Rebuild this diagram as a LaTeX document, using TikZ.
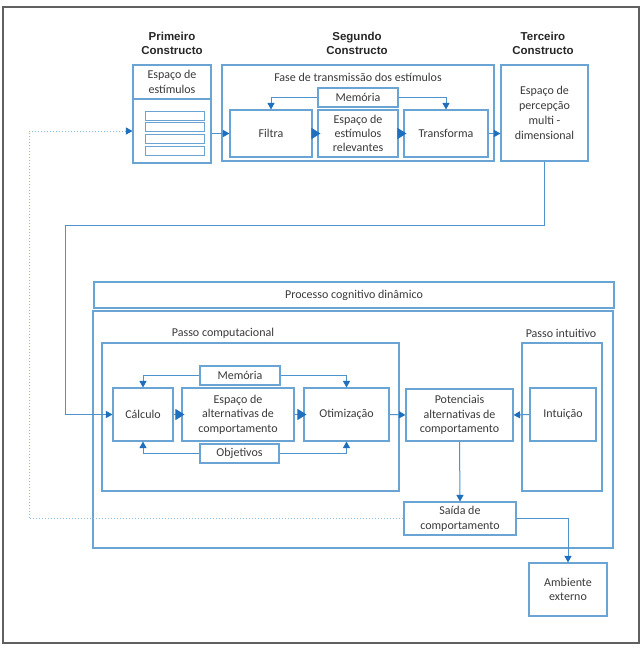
\documentclass[tikz,border=0pt]{standalone}
\usepackage{fontspec}
\setmainfont{Carlito}
\newfontfamily\hdfont{Liberation Sans}
\usetikzlibrary{arrows.meta}
\definecolor{boxblue}{HTML}{6AA4D4}
\definecolor{linblue}{HTML}{4F93CC}
\definecolor{tipblue}{HTML}{1F6FBF}
\definecolor{dotblue}{HTML}{8ABBE0}
\definecolor{txt}{HTML}{3A3A3A}
\definecolor{framegray}{HTML}{606060}
\tikzset{
  box/.style={draw=boxblue, line width=1.1pt, fill=white, text=txt, align=center,
    inner sep=0pt, font=\fontsize{12}{14.6}\selectfont},
  lbl/.style={text=txt, inner sep=0pt, font=\fontsize{12}{14.6}\selectfont},
  hdr/.style={text=black!85, align=center, inner sep=0pt, font=\hdfont\bfseries\fontsize{11.5}{13.5}\selectfont},
  conn/.style={draw=linblue, line width=1pt},
  arr/.style={conn, -{Triangle[length=6.5pt,width=7pt,color=tipblue,fill=tipblue]}},
  bigarr/.style={conn, -{Triangle[length=9pt,width=11pt,color=tipblue,fill=tipblue]}, shorten >=-3pt},
  dotarr/.style={draw=dotblue, line width=1pt, dotted, -{Triangle[length=6.5pt,width=7pt,color=tipblue,fill=tipblue]}},
}
\begin{document}
\begin{tikzpicture}[x=1pt,y=-1pt]
\useasboundingbox (0,0) rectangle (642,648);
\draw[framegray, line width=1.2pt] (3,7) rectangle (639,643);

% headers
\node[hdr] (h1) at (172,43.5) {Primeiro\\Constructo};
\node[hdr] (h2) at (357,43.5) {Segundo\\Constructo};
\node[hdr] (h3) at (543,43.5) {Terceiro\\Constructo};

% first construct
\node[box, minimum width=78pt, minimum height=98pt] (est) at (172,114) {};
\draw[boxblue, line width=1.1pt] (133,99) -- (211,99);
\node[lbl, align=center] (estt) at (172,82) {Espaço de\\estímulos};
\foreach \yy/\nm in {115.5/r1,127/r2,138.5/r3,150.5/r4}
  \node[box, line width=0.9pt, minimum width=59pt, minimum height=9pt] (\nm) at (174.5,\yy) {};

% second construct
\node[box, minimum width=272pt, minimum height=96pt] (seg) at (358,113) {};
\node[lbl] (fase) at (358,77) {Fase de transmissão dos estímulos};
\node[box, minimum width=80pt, minimum height=19pt] (mem1) at (358,97.5) {Memória};
\node[box, minimum width=82pt, minimum height=47pt] (filtra) at (271,133.5) {Filtra};
\node[box, minimum width=80pt, minimum height=47pt] (relev) at (358,133.5) {Espaço de\\[-0.6pt]estímulos\\[-0.6pt]relevantes};
\node[box, minimum width=84pt, minimum height=47pt] (transf) at (446,133.5) {Transforma};

% third construct
\node[box, minimum width=87pt, minimum height=96pt] (terc) at (544.5,113) {Espaço de\\[0.3pt]percepção\\[0.3pt]multi -\\[0.3pt]dimensional};

% lower part
\node[box, minimum width=520pt, minimum height=26pt] (proc) at (354,295) {Processo cognitivo dinâmico};
\node[box, minimum width=520pt, minimum height=237pt] (big) at (353,429.5) {};
\node[lbl] (pct) at (223,333) {Passo computacional};
\node[box, minimum width=297pt, minimum height=148pt] (pc) at (250.5,417) {};
\node[lbl] (pit) at (561,333) {Passo intuitivo};
\node[box, minimum width=80pt, minimum height=148pt] (pi) at (562,417) {};

\node[box, minimum width=80pt, minimum height=19pt] (mem2) at (240,375.5) {Memória};
\node[box, minimum width=60pt, minimum height=53pt] (calc) at (143,414.5) {Cálculo};
\node[box, minimum width=112pt, minimum height=53pt] (alt) at (238,414.5) {Espaço de\\alternativas de\\comportamento};
\node[box, minimum width=85pt, minimum height=53pt] (otim) at (346.5,414.5) {Otimização};
\node[box, minimum width=79pt, minimum height=19pt] (obj) at (239.5,453.5) {Objetivos};
\node[box, minimum width=107pt, minimum height=52pt] (pot) at (459.5,415) {Potenciais\\alternativas de\\comportamento};
\node[box, minimum width=66pt, minimum height=53pt] (intu) at (563,414.5) {Intuição};
\node[box, minimum width=112pt, minimum height=33pt] (saida) at (460,518.5) {Saída de\\comportamento};
\node[box, minimum width=78pt, minimum height=53pt] (amb) at (568,589.5) {Ambiente\\externo};

% connectors (top)
\draw[arr] (mem1.west) -| (filtra.north);
\draw[arr] (mem1.east) -| (transf.north);
\draw[arr] (est.east |- filtra.west) -- (filtra.west);
\draw[bigarr] (filtra.east) -- (relev.west);
\draw[bigarr] (relev.east) -- (transf.west);
\draw[arr] (transf.east) -- (transf.east -| terc.west);

% connector from third construct to calc
\coordinate (c1) at (65,225);
\draw[arr] (terc.south) |- (c1) |- (calc.west);

% lower connectors
\draw[arr] (mem2.west) -| (calc.north);
\draw[arr] (mem2.east) -| (otim.north);
\draw[arr] (obj.west) -| (calc.south);
\draw[arr] (obj.east) -| (otim.south);
\draw[bigarr] (calc.east) -- (alt.west);
\draw[bigarr] (alt.east) -- (otim.west);
\draw[arr] (otim.east) -- (pot.west);
\draw[arr] (intu.west) -- (pot.east);
\draw[arr] (pot.south) -- (saida.north);
\draw[arr] (saida.east) -| (amb.north);

% dotted feedback
\coordinate (d1) at (29,518.5);
\coordinate (d2) at (29,131);
\draw[dotarr] (saida.west) -- (d1) -- (d2) -- (est.west |- d2);
\end{tikzpicture}
\end{document}
